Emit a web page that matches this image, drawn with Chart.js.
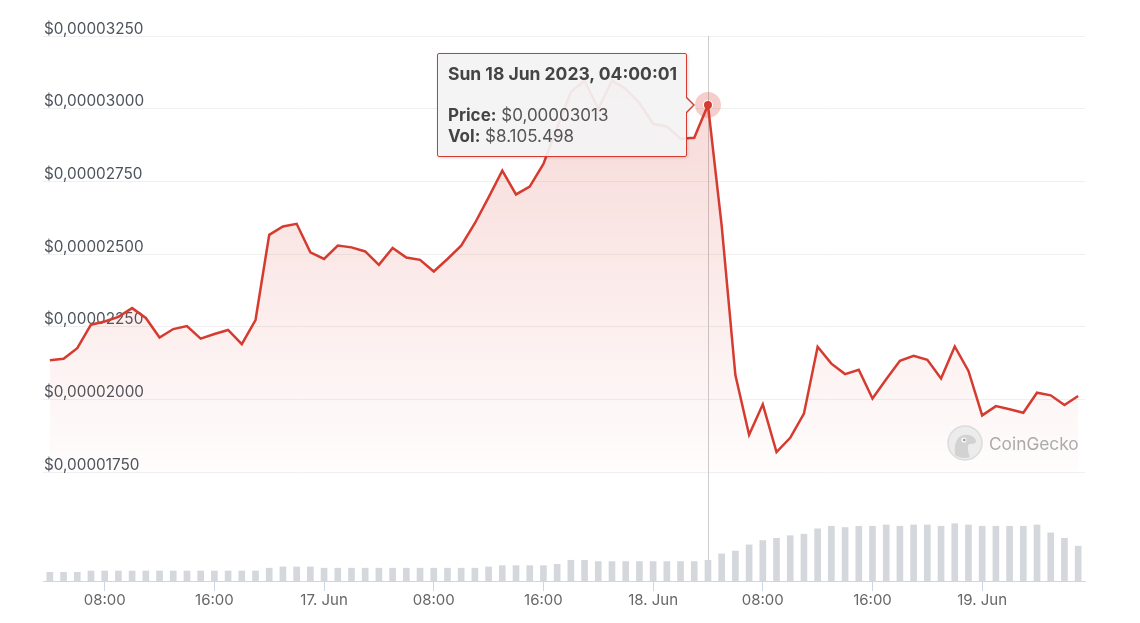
<!DOCTYPE html>
<html>
<head>
<meta charset="utf-8">
<title>Price chart</title>
<script src="https://cdn.jsdelivr.net/npm/chart.js@4.4.0/dist/chart.umd.min.js"></script>
<style>
  html, body { margin: 0; padding: 0; background: #fff; }
  #wrap { position: relative; width: 1140px; height: 623px; font-family: Inter, "Liberation Sans", sans-serif; }
  #tip {
    position: absolute; display: none; box-sizing: border-box;
    width: 250px; height: 104px; padding: 9px 10px;
    background: rgba(243,243,243,0.93); border: 1px solid #d63b30; border-radius: 2px;
    box-shadow: 1px 1px 3px rgba(0,0,0,0.15);
    font-size: 17px; line-height: 21px; color: #555; white-space: nowrap;
  }
  #tip .title { font-size: 17.5px; }
  #tip b { color: #444; font-weight: 700; }
  #tip .caret-o, #tip .caret-i { position: absolute; width: 0; height: 0; border-style: solid; border-color: transparent; }
  #tip .caret-o { right: -9px; top: 42px; border-width: 9px 0 9px 9px; border-left-color: #d63b30; }
  #tip .caret-i { right: -7px; top: 44px; border-width: 7px 0 7px 7px; border-left-color: #f3f3f3; }
  #mark { position: absolute; left: 947px; top: 425px; display: flex; align-items: center; }
  #mark .txt { margin-left: 6px; font-size: 17.3px; color: #ababab; }
</style>
</head>
<body>
<div id="wrap">
  <canvas id="priceChart" width="1140" height="623"></canvas>
  <div id="tip"></div>
  <div id="mark">
    <svg width="36" height="36" viewBox="0 0 36 36">
      <circle cx="18" cy="18" r="17" fill="#ececec" stroke="#dcdcdc" stroke-width="1.5"/>
      <path d="M8 30 C7 20 9 11 17 10 C23 9 28 12 29 16 C29 19 25 19 22 19 C20 21 21 27 23 32 C18 34 12 33 8 30 Z" fill="#d2d2d2"/>
      <circle cx="17" cy="15" r="2.6" fill="#fafafa"/>
      <circle cx="17.3" cy="15" r="1.3" fill="#9a9a9a"/>
    </svg>
    <span class="txt">CoinGecko</span>
  </div>
</div>
<script>
// hours counted from 16 Jun 2023 00:00, one sample per hour
const hours = [4,5,6,7,8,9,10,11,12,13,14,15,16,17,18,19,20,21,22,23,24,25,26,27,28,29,30,31,32,33,34,35,36,37,38,39,40,41,
  42,43,44,45,46,47,48,49,50,51,52,53,54,55,56,57,58,59,60,61,62,63,64,65,66,67,68,69,70,71,72,73,74,75,76,77,78,79];

const prices = [
  0.00002135, 0.00002140, 0.00002176, 0.00002257, 0.00002268, 0.00002284, 0.00002314, 0.00002280, 0.00002213, 0.00002242,
  0.00002252, 0.00002209, 0.00002225, 0.00002239, 0.00002190, 0.00002273, 0.00002566, 0.00002595, 0.00002604, 0.00002506,
  0.00002483, 0.00002529, 0.00002523, 0.00002509, 0.00002463, 0.00002521, 0.00002488, 0.00002480, 0.00002440, 0.00002483,
  0.00002529, 0.00002606, 0.00002695, 0.00002787, 0.00002705, 0.00002732, 0.00002810, 0.00002936, 0.00003057, 0.00003097,
  0.00003000, 0.00003097, 0.00003068, 0.00003020, 0.00002948, 0.00002939, 0.00002897, 0.00002900, 0.00003013, 0.00002598,
  0.00002084, 0.00001878, 0.00001983, 0.00001819, 0.00001868, 0.00001951, 0.00002181, 0.00002123, 0.00002087, 0.00002102,
  0.00002003, 0.00002069, 0.00002133, 0.00002150, 0.00002136, 0.00002072, 0.00002182, 0.00002098, 0.00001945, 0.00001977,
  0.00001966, 0.00001954, 0.00002023, 0.00002014, 0.00001981, 0.00002012
];

const volumes = [
  3400000, 3400000, 3400000, 3900000, 3900000, 3900000, 3900000, 3900000, 3900000, 3900000,
  3900000, 3900000, 3900000, 3900000, 3900000, 3900000, 5000000, 5500000, 5500000, 5500000,
  5000000, 5000000, 5000000, 5000000, 5000000, 5000000, 5000000, 5000000, 5000000, 5000000,
  5000000, 5000000, 5500000, 6000000, 6000000, 6000000, 6000000, 6500000, 8100000, 8100000,
  7600000, 7600000, 7600000, 7600000, 7600000, 7600000, 7600000, 7600000, 8105498, 10600000,
  11700000, 14100000, 15800000, 16700000, 17700000, 18300000, 20400000, 21400000, 20900000, 21400000,
  21400000, 21900000, 21400000, 21900000, 21900000, 21400000, 22400000, 21900000, 21400000, 21400000,
  21400000, 21400000, 21900000, 18800000, 16700000, 13600000
];

const priceTicks = [0.0000175, 0.00002, 0.0000225, 0.000025, 0.0000275, 0.00003, 0.0000325];
const xTickHours = [8, 16, 24, 32, 40, 48, 56, 64, 72];
const xTickLabels = ['08:00', '16:00', '17. Jun', '08:00', '16:00', '18. Jun', '08:00', '16:00', '19. Jun'];
const dayNames = ['Fri', 'Sat', 'Sun', 'Mon'];
const activeHour = 52;

const lineRed = '#d63b30';
Chart.defaults.font.family = 'Inter, "Liberation Sans", sans-serif';

function fmtPrice(v) { return '$' + v.toFixed(8).replace('.', ','); }
function fmtVol(v) { return '$' + Math.round(v).toString().replace(/\B(?=(\d{3})+(?!\d))/g, '.'); }
function pad(n) { return (n < 10 ? '0' : '') + n; }
function fmtTime(h) {
  const d = Math.floor(h / 24);
  return dayNames[d] + ' ' + (16 + d) + ' Jun 2023, ' + pad(h % 24) + ':00:01';
}

function drawTip(context) {
  const t = context.tooltip;
  const el = document.getElementById('tip');
  if (t.opacity === 0 || !t.dataPoints || !t.dataPoints.length) { el.style.display = 'none'; return; }
  const i = t.dataPoints[0].dataIndex;
  el.innerHTML = '<div class="title"><b>' + fmtTime(hours[i]) + '</b></div><div>&nbsp;</div>' +
    '<div><b>Price:</b> ' + fmtPrice(prices[i]) + '</div>' +
    '<div><b>Vol:</b> ' + fmtVol(volumes[i]) + '</div>' +
    '<span class="caret-o"></span><span class="caret-i"></span>';
  el.style.display = 'block';
  el.style.left = (t.caretX - 21 - 250) + 'px';
  el.style.top = (t.caretY - 52) + 'px';
}

const crosshair = {
  id: 'crosshair',
  beforeDatasetsDraw(chart) {
    const a = chart.getActiveElements()[0];
    if (!a) return;
    const {ctx, chartArea} = chart;
    const x = Math.round(a.element.x) + 0.5;
    ctx.save();
    ctx.strokeStyle = '#cccccc';
    ctx.lineWidth = 1;
    ctx.beginPath();
    ctx.moveTo(x, chartArea.top);
    ctx.lineTo(x, chartArea.bottom);
    ctx.stroke();
    ctx.restore();
  }
};

const ctx = document.getElementById('priceChart');

const chart = new Chart(ctx, {
  type: 'line',
  data: {
    datasets: [{
      type: 'line',
      label: 'Price',
      data: hours.map((h, i) => ({x: h, y: prices[i]})),
      yAxisID: 'y',
      borderColor: lineRed,
      borderWidth: 2.5,
      tension: 0,
      pointRadius: 0,
      pointHoverRadius: 4,
      pointHoverBackgroundColor: lineRed,
      pointHoverBorderColor: 'rgba(214,59,48,0.25)',
      pointHoverBorderWidth: 18,
      fill: {value: priceTicks[0]},
      backgroundColor: function(c) {
        const area = c.chart.chartArea;
        if (!area) return 'rgba(214,59,48,0.1)';
        const yb = c.chart.scales.y.getPixelForValue(priceTicks[0]);
        const g = c.chart.ctx.createLinearGradient(0, area.top, 0, yb);
        g.addColorStop(0, 'rgba(214,59,48,0.22)');
        g.addColorStop(1, 'rgba(214,59,48,0.01)');
        return g;
      }
    }, {
      type: 'bar',
      label: 'Vol',
      data: hours.map((h, i) => ({x: h, y: volumes[i]})),
      yAxisID: 'yVol',
      backgroundColor: '#d4d7dc',
      borderWidth: 0,
      barThickness: 6
    }]
  },
  options: {
    responsive: false,
    animation: false,
    events: [],
    layout: {padding: {left: 43, right: 55, top: 36, bottom: 14}},
    interaction: {mode: 'nearest', intersect: false},
    plugins: {
      legend: {display: false},
      tooltip: {enabled: false, external: drawTip}
    },
    scales: {
      x: {
        type: 'linear',
        min: 3.5,
        max: 79.5,
        offset: false,
        afterBuildTicks: function(scale) { scale.ticks = xTickHours.map(v => ({value: v})); },
        grid: {offset: false, drawOnChartArea: false, drawTicks: true, tickLength: 10, color: '#ccd6eb'},
        border: {color: '#ccd6eb'},
        ticks: {
          padding: 0, color: '#666', font: {size: 15}, maxRotation: 0, autoSkip: false,
          callback: function(v, i) { return xTickLabels[i]; }
        }
      },
      y: {
        position: 'left',
        min: 0.000013754,
        max: 0.0000325,
        afterBuildTicks: function(scale) { scale.ticks = priceTicks.map(v => ({value: v})); },
        afterFit: function(scale) { scale.width = 0; },
        grid: {color: '#f0f0f0', drawTicks: false},
        border: {display: false},
        ticks: {
          mirror: true, padding: 1, labelOffset: -7, color: '#4d535c', font: {size: 15.3},
          callback: function(v) { return fmtPrice(v); }
        }
      },
      yVol: {display: false, min: 0, max: 213000000}
    }
  },
  plugins: [crosshair]
});

const activeIdx = hours.indexOf(activeHour);
chart.setActiveElements([{datasetIndex: 0, index: activeIdx}]);
chart.tooltip.setActiveElements([{datasetIndex: 0, index: activeIdx}], {x: 0, y: 0});
chart.update();
</script>
</body>
</html>
